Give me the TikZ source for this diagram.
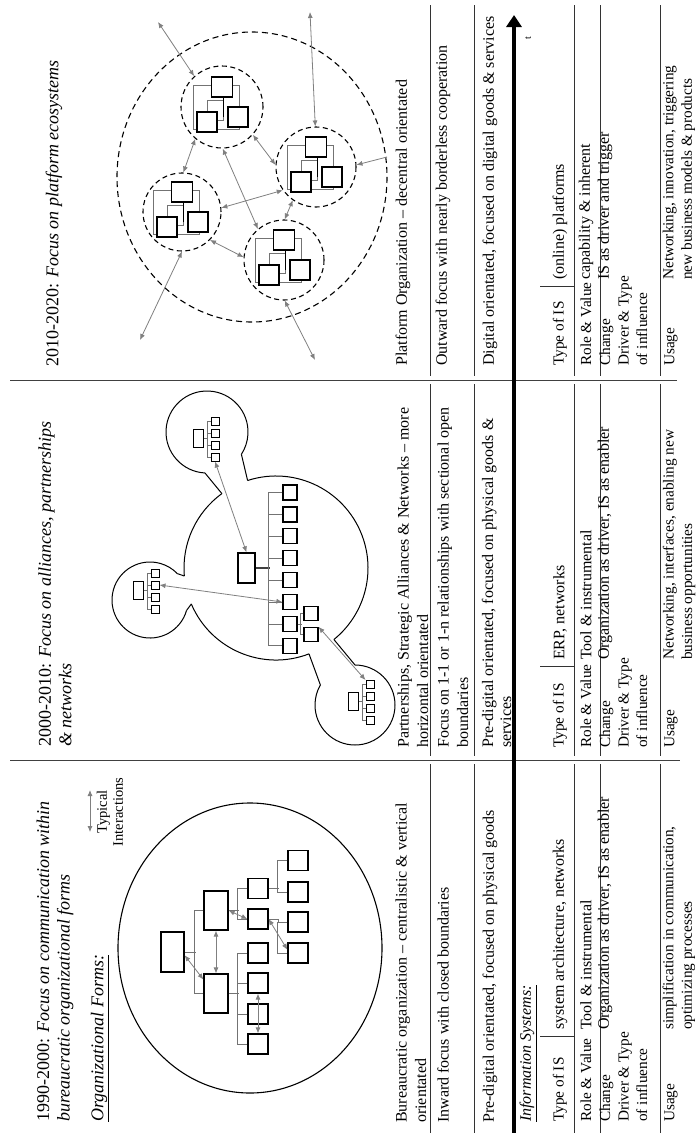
\documentclass[tikz,border=0pt]{standalone}
\usepackage{fontspec}
\setmainfont{Liberation Serif}
\usetikzlibrary{arrows.meta,calc}
\begin{document}
\begin{tikzpicture}[x=1pt,y=-1pt,
  txt/.style={rotate=90,anchor=west,inner sep=0pt,align=left,font=\fontsize{16}{19.5}\selectfont},
  labtxt/.style={txt,font=\fontsize{15.3}{18.5}\selectfont},
  headtxt/.style={txt,font=\fontsize{18}{20.5}\selectfont},
  rowline/.style={draw=black!80,line width=0.9pt},
  colline/.style={draw=black!75,line width=0.9pt},
  orgbox/.style={draw=black,line width=1.2pt,inner sep=0pt,fill=white},
  link/.style={draw=black!55,line width=0.7pt},
  ia/.style={draw=black!50,line width=0.8pt,{Latex[length=6pt,width=5pt]}-{Latex[length=6pt,width=5pt]}},
  ib/.style={draw=black!50,line width=0.8pt,-{Latex[length=6pt,width=5pt]}},
  bubble/.style={draw=black,line width=1pt},
  dcirc/.style={draw=black,line width=1.1pt,dash pattern=on 5pt off 3.5pt,circle,inner sep=0pt,minimum size=#1},
  miniorg/.pic={
    \node[orgbox,line width=1pt,minimum width=10pt,minimum height=18pt] (-boss) at (0,0) {};
    \foreach \i/\dy in {1/-17,2/-5,3/7,4/19}
      \node[orgbox,line width=1pt,minimum size=8pt] (-b\i) at (17,\dy) {};
    \draw[link] (-boss.east) -- (9,0);
    \draw[link] (-b1.west) -- (9,-17) -- (9,19) -- (-b4.west);
    \draw[link] (-b2.west) -- (9,-5);
    \draw[link] (-b3.west) -- (9,7);
  },
  pfgroup/.pic={
    \draw[link] (-29,-22) rectangle (17,22);
    \draw[link] (-15,-7) rectangle (1,13);
    \draw[black,line width=0.8pt] (1,-12) -- (1,10);
    \node[orgbox,line width=1.3pt,minimum width=21pt,minimum height=20pt] (-top) at (0,-20) {};
    \node[orgbox,line width=1.3pt,minimum width=20pt,minimum height=20pt] (-bl) at (-15,15) {};
    \node[orgbox,line width=1.3pt,minimum width=20pt,minimum height=20pt] (-br) at (16,10) {};
  },
]
\fill[white] (0,0) rectangle (696,1133);
\useasboundingbox (0,0) rectangle (696,1133);

% ---------- table rules ----------
\draw[colline] (10,380) -- (677,380);
\draw[colline] (10,760) -- (680,760);
\foreach \x in {430,474,574,600,660} {
  \draw[rowline] (\x,5) -- (\x,376);
  \draw[rowline] (\x,384) -- (\x,756);
  \draw[rowline] (\x,764) -- (\x,1133);
}
\foreach \y in {286,666,1036} \draw[rowline] (540,\y) -- (574,\y);

% ---------- time axis ----------
\coordinate (tstart) at (514,1133);
\coordinate (tend) at (514,15);
\draw[line width=3.6pt,-{Triangle[length=12pt,width=15pt]}] (tstart) -- (tend);
\node[rotate=90,inner sep=0pt,font=\fontsize{10}{12}\selectfont] (tlabel) at (528,38) {t};

% ================= 1990-2000 =================
\node[headtxt] (h1) at (55,1122) {1990-2000: \textit{Focus on communication within}\\\textit{bureaucratic organizational forms}};
\node[headtxt] (of) at (100,1122) {\underline{\textit{Organizational Forms:}}};
\coordinate (lg1) at (90,790);
\coordinate (lg2) at (90,832);
\draw[ia] (lg1) -- (lg2);
\node[rotate=90,align=center,inner sep=0pt,font=\fontsize{14.5}{16}\selectfont] (legend) at (110,812) {Typical\\Interactions};

\draw[line width=1.1pt] (250,948) ellipse[x radius=132, y radius=145];

\node[orgbox,minimum width=23pt,minimum height=40pt] (a0) at (172.5,952) {};
\node[orgbox,minimum width=24pt,minimum height=39pt] (b1) at (216,910.5) {};
\node[orgbox,minimum width=24pt,minimum height=39pt] (c1) at (216,993.5) {};
\foreach \n/\y in {1/888.5,2/919,3/953,4/983,5/1014,6/1044}
  \node[orgbox,minimum size=20pt] (d\n) at (258,\y) {};
\foreach \n/\y in {1/860.5,2/892,3/922,4/953}
  \node[orgbox,minimum size=20pt] (e\n) at (298,\y) {};

\draw[link] (a0.east) -- ++(11,0);
\draw[link] (b1.west) -- ++(-9,0) |- (c1.west);
\draw[link] (b1.east) -- ++(10,0);
\draw[link] (d1.west) -- ++(-10,0) |- (d2.west);
\draw[link] (c1.east) -- ++(10,0);
\draw[link] (d3.west) -- ++(-10,0) |- (d6.west);
\draw[link] (d4.west) -- ++(-10,0);
\draw[link] (d5.west) -- ++(-10,0);
\draw[link] (d1.east) -- ++(10,0);
\draw[link] (e1.west) -- ++(-10,0) |- (e2.west);
\draw[link] (d2.east) -- ++(10,0) |- (e3.west);
\draw[link] (e3.west) -- ++(-10,0) |- (e4.west);

\draw[ia] (b1.south) -- (c1.north);
\draw[ia] (a0.-15) -- (c1.132);
\draw[ia] (b1.east) -- (d2.west);
\draw[ia] (d2.east) -- (e4.163);
\draw[ia] (d4.south) -- (d6.north);

\node[txt] (r1a) at (411,1123) {Bureaucratic organization – centralistic \& vertical\\orientated};
\node[txt] (r1b) at (443,1123) {Inward focus with closed boundaries};
\node[txt] (r1c) at (490,1123) {Pre-digital orientated, focused on physical goods};
\node[txt] (is1) at (528,1122) {\underline{\textit{Information Systems:}}};
\node[labtxt] (l1a) at (560,1122) {Type of IS};
\node[labtxt] (l1b) at (586,1122) {Role \& Value};
\node[labtxt] (l1c) at (623.5,1122) {Change\\Driver \& Type\\of influence};
\node[labtxt] (l1d) at (671,1122) {Usage};
\node[txt] (v1a) at (560,1030) {system architecture, networks};
\node[txt] (v1b) at (586,1030) {Tool \& instrumental};
\node[txt] (v1c) at (605,1030) {Organization as driver, IS as enabler};
\node[labtxt] (v1d) at (679,1030) {simplification in communication,\\optimizing processes};

% ================= 2000-2010 =================
\node[headtxt] (h2) at (55,747) {2000-2010: \textit{Focus on alliances, partnerships}\\\textit{\& networks}};

% central circle with openings towards the partner bubbles
\draw[bubble] ([shift={(69:92)}]276,568) arc[start angle=69, end angle=157, radius=92];
\draw[bubble] ([shift={(175:92)}]276,568) arc[start angle=175, end angle=234, radius=92];
\draw[bubble] ([shift={(252:92)}]276,568) arc[start angle=252, end angle=411, radius=92];
% partner bubbles
\draw[bubble] ([shift={(93:41)}]207,432) arc[start angle=93, end angle=393, radius=41];
\draw[bubble] (241.4,454.3) -- (247.6,480.5);
\draw[bubble] (204.9,472.9) -- (221.9,493.6);
\draw[bubble] ([shift={(16:38)}]150,600) arc[start angle=16, end angle=316, radius=38];
\draw[bubble] (186.5,610.5) -- (191.3,604);
\draw[bubble] (177.3,573.6) -- (184.3,576);
\draw[bubble] ([shift={(270:40)}]355,705) arc[start angle=270, end angle=570, radius=40];
\draw[bubble] (355,665) -- (333.9,639.5);
\draw[bubble] (320.4,685) -- (309,653.9);

\node[orgbox,line width=1.3pt,minimum width=17pt,minimum height=30pt] (c0) at (246.5,568) {};
\foreach \n/\y in {1/492.5,2/514.4,3/536.3,4/558.2,5/580.1,6/602,7/623.9,8/645.8}
  \node[orgbox,minimum width=14pt,minimum height=15pt] (k\n) at (290,\y) {};
\node[orgbox,minimum width=14pt,minimum height=14pt] (m1) at (311,613.5) {};
\node[orgbox,minimum width=14pt,minimum height=14pt] (m2) at (311,634.5) {};
\draw[draw=black!75,line width=1.3pt] (c0.east) -- ++(14,0);
\draw[link] (k1.west) -- ++(-14,0) |- (k8.west);
\foreach \n in {2,...,7} \draw[link] (k\n.west) -- ++(-14,0);
\draw[link] (k7.east) -- ++(4,0);
\draw[link] (m1.west) -- ++(-3,0) |- (m2.west);

\pic (ub) at (198,438) {miniorg};
\pic (lb) at (138,590) {miniorg};
\pic (lw) at (353,701.5) {miniorg};

\draw[ia] (c0.north) -- (ub-b4.south);
\draw[ia] (lb-b2.east) -- (k6.west);
\draw[ia] (m2.north east) -- (lw-b1.north west);

\node[txt] (r2a) at (413,748) {Partnerships, Strategic Alliances \& Networks – more\\horizontal orientated};
\node[txt] (r2b) at (453,748) {Focus on 1-1 or 1-n relationships with sectional open\\boundaries};
\node[txt,font=\fontsize{16}{18}\selectfont] (r2c) at (496.5,748) {Pre-digital orientated, focused on physical goods \&\\services};
\node[labtxt] (l2a) at (560,748) {Type of IS};
\node[labtxt] (l2b) at (586,748) {Role \& Value};
\node[labtxt] (l2c) at (623.5,748) {Change\\Driver \& Type\\of influence};
\node[labtxt] (l2d) at (671,748) {Usage};
\node[txt] (v2a) at (560,660) {ERP, networks};
\node[txt] (v2b) at (586,660) {Tool \& instrumental};
\node[txt] (v2c) at (605,660) {Organization as driver, IS as enabler};
\node[labtxt] (v2d) at (679,660) {Networking, interfaces, enabling new\\business opportunities};

% ================= 2010-2020 =================
\node[headtxt] (h3) at (54,367) {2010-2020: \textit{Focus on platform ecosystems}};

\draw[line width=1.1pt,dash pattern=on 6pt off 4pt] (252,177) ellipse[x radius=135, y radius=145];
\node[dcirc=82pt] (s1) at (222,107) {};
\node[dcirc=78pt] (s2) at (182,212) {};
\node[dcirc=80pt] (s3) at (316,167) {};
\node[dcirc=80pt] (s4) at (284,260) {};
\pic (p1) at (222,107) {pfgroup};
\pic (p2) at (182,212) {pfgroup};
\pic (p3) at (316,167) {pfgroup};
\pic (p4) at (284,260) {pfgroup};

\coordinate (o1) at (158,22);
\coordinate (o2) at (140,340);
\coordinate (o4) at (310,12);
\coordinate (o5) at (387,157);
\coordinate (o6) at (315,360);
\draw[ia] (o1) -- (s1.132);
\draw[ia] (s2.270) -- (o2);
\draw[ia] (s1.230) -- (s2.88);
\draw[ia] (s3.91) -- (o4);
\draw[ib] (o5) -- (s3.3);
\draw[ia] (s4.271) -- (o6);
\draw[ia] (s1.318) -- (s3.177);
\draw[ia] (s3.235) -- (s4.89);
\draw[ia] (s2.6) -- (s3.215);
\draw[ia] (s1.271) -- (s4.130);
\draw[ia] (s2.315) -- (s4.176);

\node[txt] (r3a) at (403,366) {Platform Organization – decentral orientated};
\node[txt] (r3b) at (443,366) {Outward focus with nearly borderless cooperation};
\node[txt] (r3c) at (490,366) {Digital orientated, focused on digital goods \& services};
\node[labtxt] (l3a) at (560,366) {Type of IS};
\node[labtxt] (l3b) at (586,366) {Role \& Value};
\node[labtxt] (l3c) at (623.5,366) {Change\\Driver \& Type\\of influence};
\node[labtxt] (l3d) at (671,366) {Usage};
\node[txt] (v3a) at (560,280) {(online) platforms};
\node[txt] (v3b) at (586,280) {capability \& inherent};
\node[txt] (v3c) at (605,280) {IS as driver and trigger};
\node[labtxt] (v3d) at (679,280) {Networking, innovation, triggering\\new business models \& products};
\end{tikzpicture}
\end{document}
